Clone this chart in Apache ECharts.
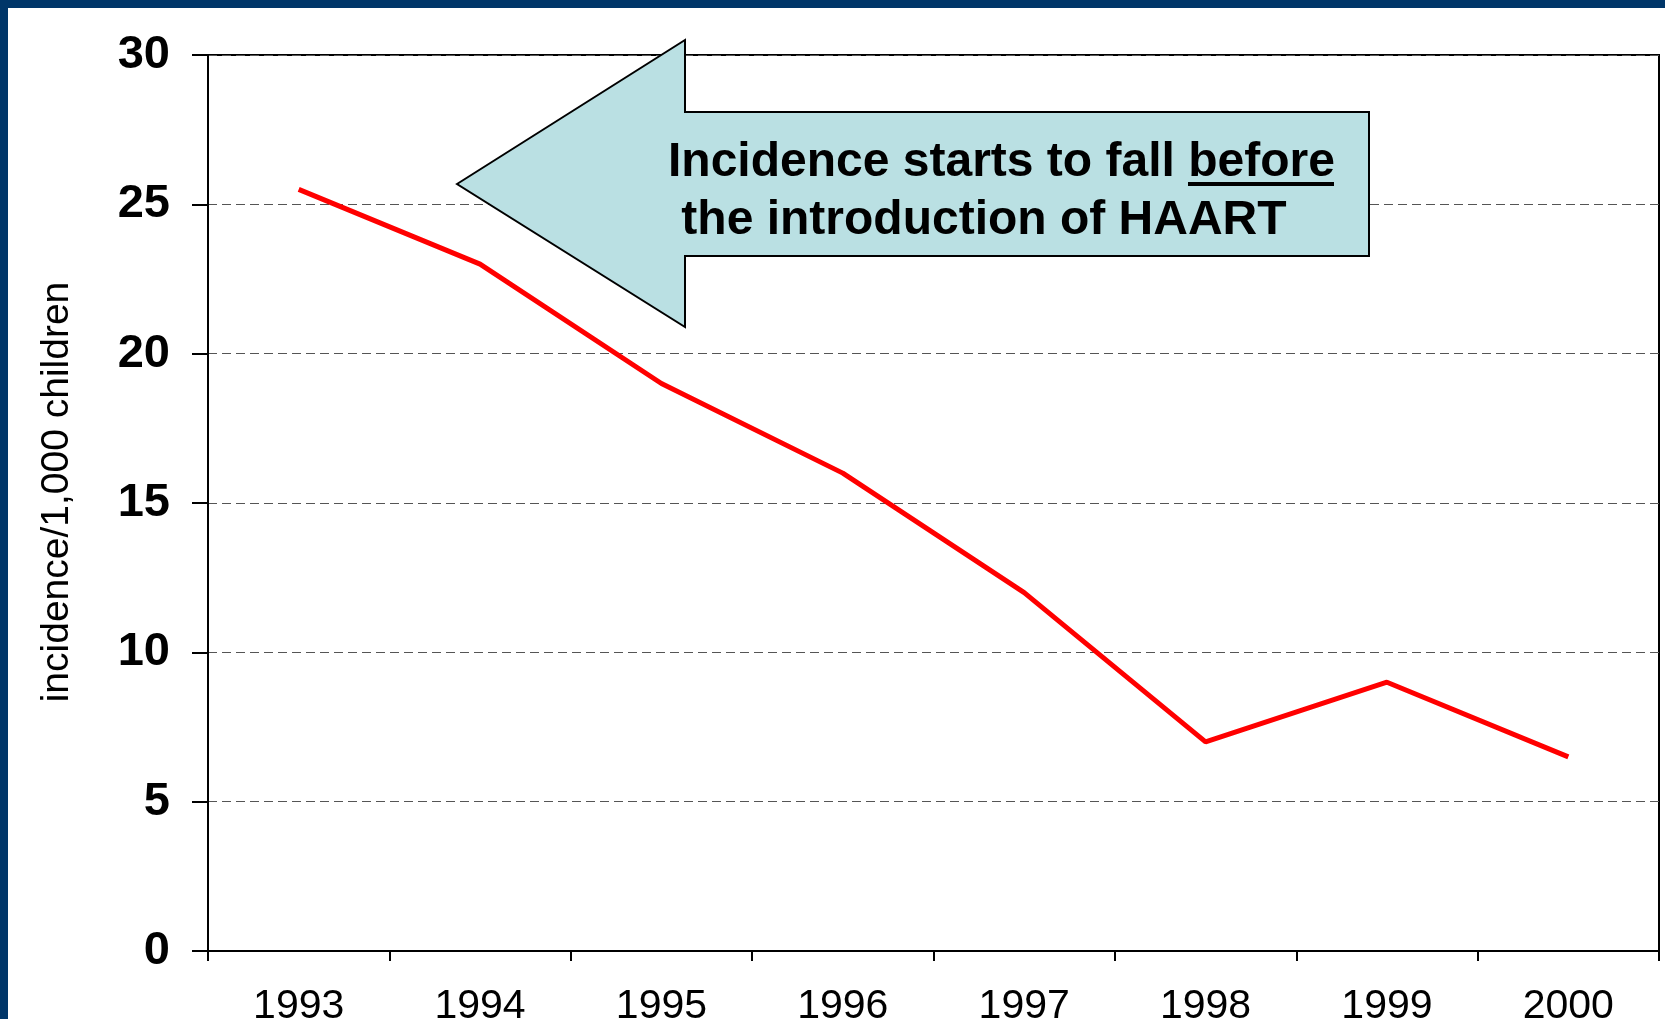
<!DOCTYPE html>
<html>
<head>
<meta charset="utf-8">
<script src="https://cdn.jsdelivr.net/npm/echarts@6/dist/echarts.min.js"></script>
<style>
  html, body { margin: 0; padding: 0; background: #ffffff; }
  #chart { width: 1665px; height: 1019px; }
</style>
</head>
<body>
<div id="chart"></div>
<script>
// ---- data ----
var years = ['1993', '1994', '1995', '1996', '1997', '1998', '1999', '2000'];
var incidence = [25.5, 23, 19, 16, 12, 7, 9, 6.5];
var yTicks = [0, 5, 10, 15, 20, 25, 30];
var yTitle = 'incidence/1,000 children';
var noteLine1 = 'Incidence starts to fall ';
var noteUnderlined = 'before';
var noteLine2 = ' the introduction of HAART';

var FONT = '"Liberation Sans", Arial, Helvetica, sans-serif';
var chart = echarts.init(document.getElementById('chart'), null, { renderer: 'canvas' });

var option = {
  backgroundColor: '#ffffff',
  animation: false,
  grid: {
    left: 208, right: 6, top: 55, bottom: 68,
    containLabel: false,
    outerBoundsMode: 'none',
    show: true, borderColor: '#000000', borderWidth: 2, backgroundColor: 'transparent'
  },
  xAxis: {
    type: 'category',
    data: years,
    boundaryGap: true,
    axisLine: { show: true, lineStyle: { color: '#000000', width: 2 } },
    axisTick: { show: true, interval: 0, length: 10, lineStyle: { color: '#000000', width: 2 } },
    axisLabel: { interval: 0, margin: 35, fontSize: 41, color: '#000000', fontFamily: FONT },
    splitLine: { show: false }
  },
  yAxis: {
    type: 'value',
    min: yTicks[0],
    max: yTicks[yTicks.length - 1],
    interval: yTicks[1] - yTicks[0],
    axisLine: { show: true, lineStyle: { color: '#000000', width: 2 } },
    axisTick: { show: true, length: 16, lineStyle: { color: '#000000', width: 2 } },
    axisLabel: { margin: 38, fontSize: 47, fontWeight: 'bold', color: '#000000', fontFamily: FONT },
    splitLine: { show: true, lineStyle: { color: '#555555', width: 1, type: [9, 5] } }
  },
  series: [{
    type: 'line',
    data: incidence,
    symbol: 'none',
    lineStyle: { color: '#ff0000', width: 5 },
    z: 3
  }],
  graphic: [
    { type: 'rect', shape: { x: 0, y: 0, width: 1665, height: 8 }, style: { fill: '#003669' }, z: 200, silent: true },
    { type: 'rect', shape: { x: 0, y: 0, width: 8, height: 1019 }, style: { fill: '#003669' }, z: 200, silent: true },
    {
      type: 'text', x: 57, y: 492, rotation: Math.PI / 2, z: 100,
      style: { text: yTitle, fontSize: 39, fontFamily: FONT, fill: '#000000', align: 'center', verticalAlign: 'middle' }
    },
    {
      type: 'polygon', z: 100,
      shape: { points: [[457, 184], [685, 40], [685, 112], [1369, 112], [1369, 256], [685, 256], [685, 327]] },
      style: { fill: '#bae0e3', stroke: '#000000', lineWidth: 2 }
    },
    {
      type: 'text', x: 668, y: 162.5, z: 101,
      style: { text: noteLine1 + noteUnderlined, fontSize: 48, fontWeight: 'bold', fontFamily: FONT, fill: '#000000', align: 'left', verticalAlign: 'middle' }
    },
    {
      type: 'line', z: 101,
      shape: { x1: 1188, y1: 184, x2: 1334, y2: 184 },
      style: { stroke: '#000000', lineWidth: 4 }
    },
    {
      type: 'text', x: 668, y: 220.5, z: 101,
      style: { text: noteLine2, fontSize: 48, fontWeight: 'bold', fontFamily: FONT, fill: '#000000', align: 'left', verticalAlign: 'middle' }
    }
  ]
};
chart.setOption(option);
</script>
</body>
</html>
